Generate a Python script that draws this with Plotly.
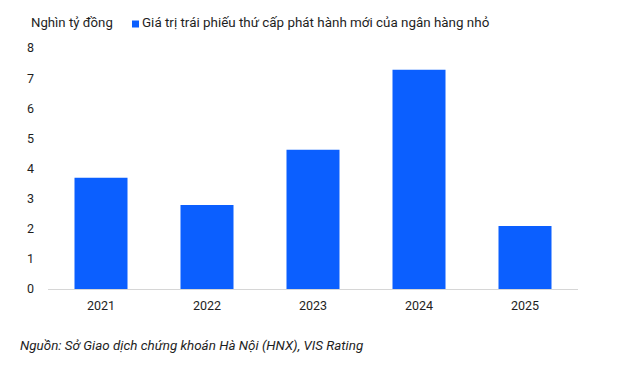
import plotly.graph_objects as go

years = ["2021", "2022", "2023", "2024", "2025"]
values = [3.69, 2.79, 4.62, 7.28, 2.09]
y_ticks = [0, 1, 2, 3, 4, 5, 6, 7, 8]
unit_label = "Nghìn tỷ đồng"
series_name = "Giá trị trái phiếu thứ cấp phát hành mới của ngân hàng nhỏ"
source_note = "Nguồn: Sở Giao dịch chứng khoán Hà Nội (HNX), VIS Rating"

BLUE = "#0B5FFF"
TEXT = "#1e1e1e"
FONT = "Roboto"

PW, PH = 530, 241  # plot area in px (for px->paper conversion)
L, T = 48, 48


def px(xp):
    return (xp - L) / PW


def py(yp):
    return 1 - (yp - T) / PH


fig = go.Figure()
fig.add_trace(go.Bar(
    x=years, y=values, name=series_name,
    marker=dict(color=BLUE, line=dict(width=0)),
    width=0.5, showlegend=False,
))

fig.update_layout(
    width=620, height=369,
    margin=dict(l=L, r=620 - L - PW, t=T, b=369 - T - PH),
    paper_bgcolor="white", plot_bgcolor="white",
    font=dict(family=FONT, size=12, color=TEXT),
    xaxis=dict(
        type="category", showgrid=False, showline=True,
        linecolor="#d6d6d6", linewidth=1, ticks="",
        ticklabelstandoff=5,
        tickfont=dict(size=12.5, color=TEXT),
    ),
    yaxis=dict(
        range=[0, 8], tickvals=y_ticks, showgrid=False, zeroline=False,
        showline=False, ticks="", ticklabelstandoff=13,
        tickfont=dict(size=12.5, color=TEXT),
    ),
    shapes=[
        dict(type="rect", xref="paper", yref="paper",
             x0=px(132), x1=px(139), y0=py(27.5), y1=py(20.5),
             fillcolor=BLUE, line=dict(width=0)),
    ],
    annotations=[
        dict(text=unit_label, xref="paper", yref="paper",
             x=px(29), y=py(23), xanchor="left", yanchor="middle",
             showarrow=False, font=dict(size=13.2, color=TEXT)),
        dict(text=series_name,
             xref="paper", yref="paper",
             x=px(140), y=py(23), xanchor="left", yanchor="middle",
             showarrow=False, font=dict(size=13.4, color=TEXT)),
        dict(text=f"<i>{source_note}</i>", xref="paper", yref="paper",
             x=px(18), y=py(345), xanchor="left", yanchor="middle",
             showarrow=False, font=dict(size=13.4, color=TEXT)),
    ],
)

fig.write_html(
    "out.html",
    config={"displayModeBar": False},
    post_script="document.body.style.margin='0';document.body.style.overflow='hidden';",
)
